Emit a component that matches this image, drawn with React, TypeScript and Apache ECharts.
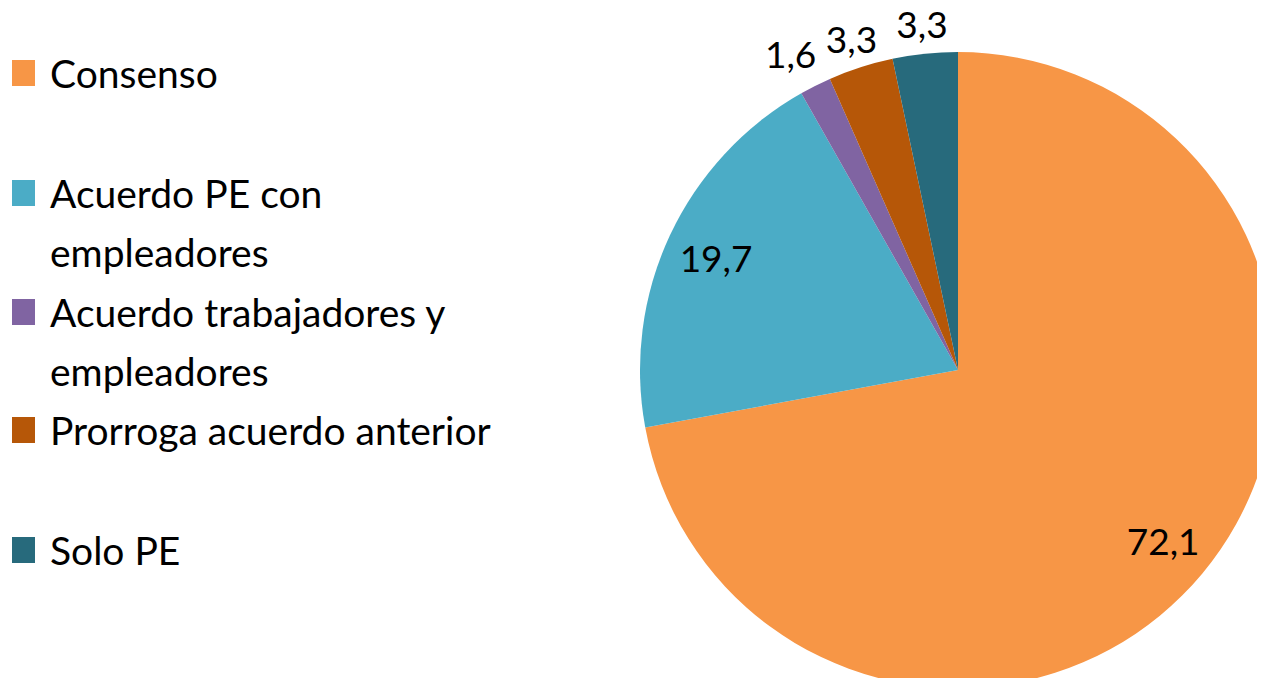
import React, { useEffect, useRef } from "react";
import * as echarts from "echarts";

const categories = [
  "Consenso",
  "Acuerdo PE con empleadores",
  "Acuerdo trabajadores y empleadores",
  "Prorroga acuerdo anterior",
  "Solo PE",
];
const legendLabels = [
  "Consenso",
  "Acuerdo PE con\nempleadores",
  "Acuerdo trabajadores y\nempleadores",
  "Prorroga acuerdo anterior",
  "Solo PE",
];
const values = [72.1, 19.7, 1.6, 3.3, 3.3];
const colors = ["#F79646", "#4BACC6", "#8064A2", "#B65708", "#276A7C"];
const legendIconCenters = [73, 193, 312, 430, 550];

const FONT = "Lato, 'Noto Sans', sans-serif";
const fmt = (v: number) => v.toFixed(1).replace(".", ",");

export default function App() {
  const ref = useRef<HTMLDivElement>(null);
  useEffect(() => {
    if (!ref.current) return;
    const chart = echarts.init(ref.current, undefined, { renderer: "svg" });
    const LH = 59;
    const legends = categories.map((name, i) => {
      const twoLines = legendLabels[i].includes("\n");
      const half = twoLines ? (3 * LH) / 2 : LH / 2;
      const text = twoLines ? " \n" + legendLabels[i] : legendLabels[i];
      return {
        orient: "vertical",
        left: 12,
        top: legendIconCenters[i] - half,
        padding: 0,
        itemWidth: 23,
        itemHeight: 26,
        icon: "rect",
        selectedMode: false,
        data: [{ name, itemStyle: { color: colors[i] } }],
        formatter: () => text,
        textStyle: {
          fontFamily: FONT,
          fontSize: 39,
          lineHeight: LH,
          color: "#000",
          padding: [0, 0, 0, 10],
        },
      };
    });
    const base = categories.map((name, i) => ({ name, value: values[i] }));
    const labelStyle = {
      show: true,
      position: "inside",
      fontFamily: FONT,
      fontSize: 37,
      color: "#000",
      overflow: "none",
      formatter: (p: any) => fmt(p.value),
    };
    const common = {
      type: "pie",
      center: [958, 370],
      startAngle: 90,
      clockwise: true,
      silent: true,
      avoidLabelOverlap: false,
    };
    chart.setOption({
      animation: false,
      legend: legends,
      series: [
        {
          ...common,
          radius: [0, 318],
          label: { show: false },
          labelLine: { show: false },
          data: base.map((d, i) => ({ ...d, itemStyle: { color: colors[i] } })),
        },
        {
          ...common,
          radius: [210, 318],
          itemStyle: { color: "rgba(0,0,0,0)" },
          labelLine: { show: false },
          label: labelStyle,
          data: base.map((d) => ({ ...d, label: { show: d.value > 10 } })),
        },
        {
          ...common,
          radius: [318, 372],
          itemStyle: { color: "rgba(0,0,0,0)" },
          labelLine: { show: false },
          label: labelStyle,
          data: base.map((d) => ({ ...d, label: { show: d.value > 2 && d.value <= 10 } })),
        },
        {
          ...common,
          radius: [0, 318],
          itemStyle: { color: "rgba(0,0,0,0)" },
          labelLine: { show: false, length: 36, length2: 0 },
          label: {
            ...labelStyle,
            position: "outside",
            alignTo: "none",
            distanceToLabelLine: -17,
          },
          data: base.map((d) => ({ ...d, label: { show: d.value <= 2 } })),
        },
      ],
    });
    return () => chart.dispose();
  }, []);
  return <div ref={ref} style={{ width: 1265, height: 686, margin: -8 }} />;
}
